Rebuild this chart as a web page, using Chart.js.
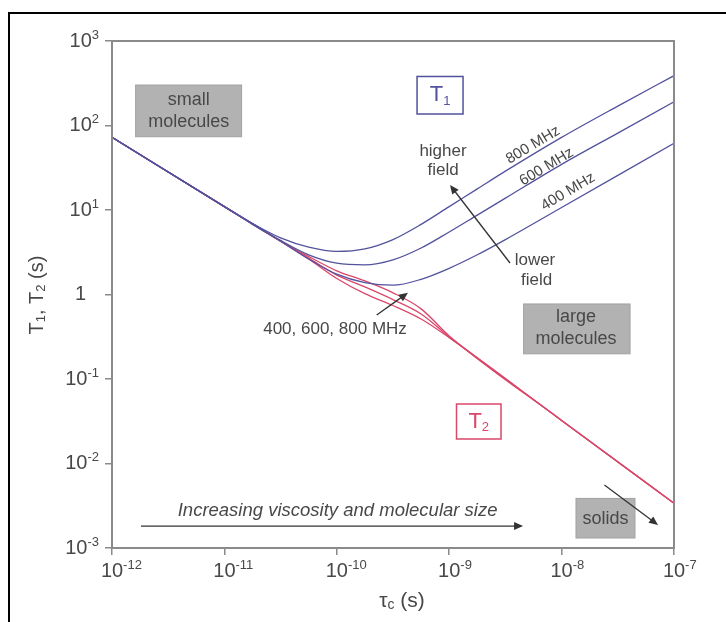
<!DOCTYPE html>
<html>
<head>
<meta charset="utf-8">
<script src="https://cdn.jsdelivr.net/npm/chart.js@4.4.1/dist/chart.umd.min.js"></script>
<style>
  html, body { margin: 0; padding: 0; background: #fff; }
  #wrap { width: 726px; height: 622px; position: relative; }
</style>
</head>
<body>
<div id="wrap"><canvas id="chart"></canvas></div>
<script>
// values are log10 exponents: tau_c (s) and T (s)
const t1Tau = [-12, -11, -10.75, -10.5, -10.25, -10, -9.75, -9.5, -9.25, -9, -8.75, -8.5, -8, -7.5, -7];
const t1_400 = [1.86, 1.04, 0.83, 0.63, 0.42, 0.24, 0.14, 0.11, 0.18, 0.31, 0.47, 0.65, 1.03, 1.41, 1.79];
const t1_600 = [1.86, 1.04, 0.84, 0.64, 0.47, 0.37, 0.35, 0.41, 0.55, 0.74, 0.94, 1.14, 1.54, 1.91, 2.28];
const t1_800 = [1.86, 1.04, 0.84, 0.67, 0.56, 0.51, 0.54, 0.65, 0.83, 1.04, 1.25, 1.46, 1.86, 2.23, 2.59];

const t2Tau = [-12, -11, -10.5, -10.25, -10, -9.75, -9.5, -9.25, -9, -8, -7];
const t2_400 = [1.86, 1.04, 0.63, 0.42, 0.19, 0.01, -0.13, -0.29, -0.51, -1.49, -2.47];
const t2_600 = [1.86, 1.04, 0.63, 0.43, 0.23, 0.09, -0.06, -0.23, -0.50, -1.49, -2.47];
const t2_800 = [1.86, 1.04, 0.63, 0.45, 0.28, 0.16, 0.02, -0.17, -0.49, -1.49, -2.47];

const xTicks = [1e-12, 1e-11, 1e-10, 1e-9, 1e-8, 1e-7];
const yTicks = [1e-3, 1e-2, 1e-1, 1, 1e1, 1e2, 1e3];

const BLUE = '#52529e';
const RED = '#d9476a';
const INK = '#484848';
const FONT = 'Arial, "Liberation Sans", Helvetica, sans-serif';

function pts(tauExp, valExp) {
  return tauExp.map((e, i) => ({ x: Math.pow(10, e), y: Math.pow(10, valExp[i]) }));
}

function curve(label, tauExp, valExp, color) {
  return {
    label: label,
    data: pts(tauExp, valExp),
    borderColor: color,
    borderWidth: 1.3,
    pointRadius: 0,
    fill: false,
    cubicInterpolationMode: 'monotone'
  };
}

// text with a raised (or lowered) small part after the base
function richText(ctx, parts, x, y, align) {
  let w = 0;
  parts.forEach(p => { ctx.font = p.font; p.w = ctx.measureText(p.t).width; w += p.w; });
  let cx = align === 'right' ? x - w : align === 'center' ? x - w / 2 : x;
  parts.forEach(p => {
    ctx.font = p.font;
    ctx.fillText(p.t, cx, y + (p.dy || 0));
    cx += p.w;
  });
}

function arrow(ctx, x1, y1, x2, y2) {
  const ang = Math.atan2(y2 - y1, x2 - x1);
  const hl = 9, hw = 4;
  ctx.beginPath();
  ctx.moveTo(x1, y1);
  ctx.lineTo(x2 - hl * 0.7 * Math.cos(ang), y2 - hl * 0.7 * Math.sin(ang));
  ctx.stroke();
  ctx.beginPath();
  ctx.moveTo(x2, y2);
  ctx.lineTo(x2 - hl * Math.cos(ang) + hw * Math.sin(ang), y2 - hl * Math.sin(ang) - hw * Math.cos(ang));
  ctx.lineTo(x2 - hl * Math.cos(ang) - hw * Math.sin(ang), y2 - hl * Math.sin(ang) + hw * Math.cos(ang));
  ctx.closePath();
  ctx.fill();
}

const deco = {
  id: 'deco',
  afterDraw(chart) {
    const ctx = chart.ctx;
    const a = chart.chartArea;
    const sx = chart.scales.x, sy = chart.scales.y;
    const X = e => sx.getPixelForValue(Math.pow(10, e));
    const Y = e => sy.getPixelForValue(Math.pow(10, e));
    const f = (s, st) => (st || '') + ' ' + s + 'px ' + FONT;

    ctx.save();
    // plot frame
    ctx.strokeStyle = '#8a8a8a';
    ctx.lineWidth = 2;
    ctx.strokeRect(a.left, a.top, a.right - a.left, a.bottom - a.top);

    // outer black frame of the figure
    ctx.strokeStyle = '#000';
    ctx.lineWidth = 2;
    ctx.strokeRect(9, 13, 760, 660);

    // tick labels
    ctx.fillStyle = INK;
    ctx.textBaseline = 'middle';
    xTicks.forEach(v => {
      const e = Math.round(Math.log10(v));
      const px = sx.getPixelForValue(v);
      ctx.font = f(20);
      const bw = ctx.measureText('10').width;
      richText(ctx, [{ t: '10', font: f(20) }, { t: String(e), font: f(13), dy: -6 }], px - bw / 2, 571, 'left');
    });
    yTicks.forEach(v => {
      const e = Math.round(Math.log10(v));
      const py = sy.getPixelForValue(v);
      if (e === 0) {
        richText(ctx, [{ t: '1', font: f(20) }], 86, py, 'right');
      } else {
        richText(ctx, [{ t: '10', font: f(20) }, { t: String(e), font: f(13), dy: -6 }], 99, py, 'right');
      }
    });

    // axis titles
    richText(ctx, [{ t: '\u03c4', font: f(21) }, { t: 'c', font: f(14), dy: 4 }, { t: ' (s)', font: f(21) }], 402, 601, 'center');
    ctx.save();
    ctx.translate(37, 295);
    ctx.rotate(-Math.PI / 2);
    richText(ctx, [{ t: 'T', font: f(20) }, { t: '1', font: f(13), dy: 4 }, { t: ', T', font: f(20) },
      { t: '2', font: f(13), dy: 4 }, { t: ' (s)', font: f(20) }], 0, 0, 'center');
    ctx.restore();

    // grey boxes
    const greyBox = (x1, y1, x2, y2) => {
      const l = X(x1), r = X(x2), t = Y(y1), b = Y(y2);
      ctx.fillStyle = '#b2b2b2';
      ctx.fillRect(l, t, r - l, b - t);
      ctx.strokeStyle = '#a2a2a2';
      ctx.lineWidth = 1;
      ctx.strokeRect(l, t, r - l, b - t);
      ctx.fillStyle = INK;
    };
    ctx.textAlign = 'center';
    greyBox(-11.79, 2.479, -10.847, 1.867);
    ctx.font = f(18);
    ctx.fillText('small', X(-11.318), Y(2.302));
    ctx.fillText('molecules', X(-11.318), Y(2.045));

    greyBox(-8.338, -0.112, -7.391, -0.702);
    ctx.font = f(18);
    ctx.fillText('large', X(-7.872), Y(-0.266));
    ctx.fillText('molecules', X(-7.872), Y(-0.527));

    greyBox(-7.872, -2.413, -7.347, -2.882);
    ctx.font = f(18);
    ctx.fillText('solids', X(-7.609), Y(-2.66));

    // T1 / T2 boxes
    const outlineBox = (x1, y1, x2, y2, col, sub) => {
      const l = X(x1), r = X(x2), t = Y(y1), b = Y(y2);
      ctx.fillStyle = '#fff';
      ctx.fillRect(l, t, r - l, b - t);
      ctx.strokeStyle = col;
      ctx.lineWidth = 1.5;
      ctx.strokeRect(l, t, r - l, b - t);
      ctx.fillStyle = col;
      ctx.textAlign = 'left';
      richText(ctx, [{ t: 'T', font: f(22) }, { t: sub, font: f(13), dy: 6 }], (l + r) / 2, (t + b) / 2, 'center');
      ctx.textAlign = 'center';
    };
    outlineBox(-9.286, 2.58, -8.877, 2.136, BLUE, '1');
    outlineBox(-8.935, -1.296, -8.539, -1.71, RED, '2');

    // field labels and arrows
    ctx.fillStyle = INK;
    ctx.strokeStyle = '#333';
    ctx.lineWidth = 1.3;
    ctx.font = f(17);
    ctx.fillText('higher', X(-9.055), Y(1.69));
    ctx.fillText('field', X(-9.055), Y(1.473));
    ctx.fillText('lower', X(-8.237), Y(0.408));
    ctx.fillText('field', X(-8.222), Y(0.172));
    ctx.fillStyle = '#333';
    arrow(ctx, X(-8.459), Y(0.373), X(-8.993), Y(1.296));

    ctx.fillStyle = INK;
    ctx.font = f(17);
    ctx.fillText('400, 600, 800 MHz', X(-10.016), Y(-0.408));
    ctx.fillStyle = '#333';
    arrow(ctx, X(-9.645), Y(-0.243), X(-9.367), Y(0.021));

    // rotated frequency labels along the T1 lines
    ctx.fillStyle = INK;
    [['800 MHz', -8.254, 1.769], ['600 MHz', -8.133, 1.512], ['400 MHz', -7.943, 1.217]].forEach(l => {
      ctx.save();
      ctx.translate(X(l[1]), Y(l[2]));
      ctx.rotate(-0.54);
      ctx.font = f(15);
      ctx.fillText(l[0], 0, 0);
      ctx.restore();
    });

    // viscosity arrow
    ctx.font = f(18.5, 'italic');
    ctx.fillText('Increasing viscosity and molecular size', X(-9.993), Y(-2.562));
    ctx.fillStyle = '#333';
    arrow(ctx, X(-11.742), Y(-2.74), X(-8.343), Y(-2.74));
    arrow(ctx, X(-7.619), Y(-2.254), X(-7.142), Y(-2.728));

    ctx.restore();
  }
};

const ctx = document.getElementById('chart').getContext('2d');

const chart = new Chart(ctx, {
  type: 'line',
  data: {
    datasets: [
      curve('T1 800 MHz', t1Tau, t1_800, BLUE),
      curve('T1 600 MHz', t1Tau, t1_600, BLUE),
      curve('T1 400 MHz', t1Tau, t1_400, BLUE),
      curve('T2 800 MHz', t2Tau, t2_800, RED),
      curve('T2 600 MHz', t2Tau, t2_600, RED),
      curve('T2 400 MHz', t2Tau, t2_400, RED)
    ]
  },
  options: {
    responsive: true,
    maintainAspectRatio: false,
    animation: false,
    layout: { padding: { left: 112, top: 41, right: 52, bottom: 74 } },
    plugins: { legend: { display: false }, tooltip: { enabled: false } },
    scales: {
      x: {
        type: 'logarithmic',
        min: 1e-12,
        max: 1e-7,
        afterBuildTicks: s => { s.ticks = xTicks.map(v => ({ value: v })); },
        afterFit: s => { s.height = 0; },
        ticks: { display: false },
        grid: { drawOnChartArea: false, drawTicks: true, tickLength: 7, color: '#8a8a8a', lineWidth: 1.5 },
        border: { display: true, color: '#8a8a8a', width: 2 }
      },
      y: {
        type: 'logarithmic',
        min: 1e-3,
        max: 1e3,
        afterBuildTicks: s => { s.ticks = yTicks.map(v => ({ value: v })); },
        afterFit: s => { s.width = 0; },
        ticks: { display: false },
        grid: { drawOnChartArea: false, drawTicks: true, tickLength: 7, color: '#8a8a8a', lineWidth: 1.5 },
        border: { display: true, color: '#8a8a8a', width: 2 }
      }
    }
  },
  plugins: [deco]
});
</script>
</body>
</html>
